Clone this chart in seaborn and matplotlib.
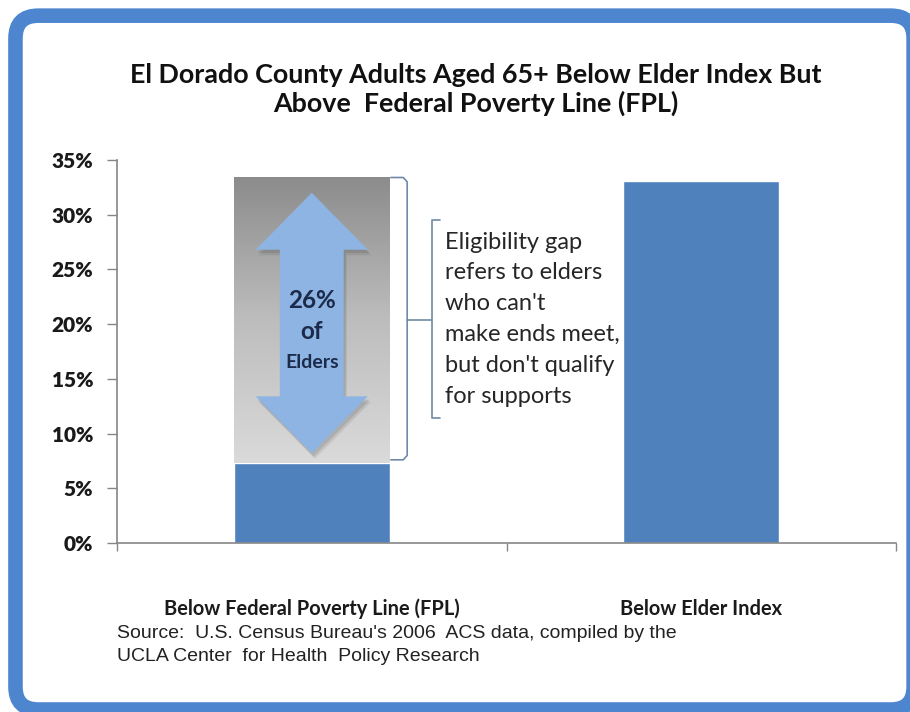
import numpy as np
import matplotlib
matplotlib.use('Agg')
import matplotlib.pyplot as plt
import seaborn as sns
from matplotlib.patches import FancyBboxPatch, Polygon
from matplotlib.ticker import FuncFormatter

# Chart data (percent of adults aged 65+)
categories = ['Below Federal Poverty Line (FPL)', 'Below Elder Index']
values = [7.3, 33.1]
gap_label = ['26%', 'of', 'Elders']
note_lines = ['Eligibility gap', 'refers to elders', "who can't",
              'make ends meet,', "but don't qualify", 'for supports']
title = 'El Dorado County Adults Aged 65+ Below Elder Index But\nAbove  Federal Poverty Line (FPL)'
source = "Source:  U.S. Census Bureau's 2006  ACS data, compiled by the\nUCLA Center  for Health  Policy Research"

bar_color = '#4f81bd'
frame_color = '#4d86cf'

sns.set_theme(style='white')
plt.rcParams['font.family'] = ['Lato', 'DejaVu Sans']

fig = plt.figure(figsize=(9.1, 7.12), dpi=100)

# rounded blue frame (runs off the right and bottom edge like the original)
frame = FancyBboxPatch((0.017, 0.0035), 0.987, 0.9745,
                       boxstyle='round,pad=0,rounding_size=0.025',
                       mutation_aspect=910 / 712,
                       transform=fig.transFigure, fc='white', ec=frame_color,
                       lw=10.5, zorder=-10)
fig.patches.append(frame)

ax = fig.add_axes([0.1286, 0.2374, 0.856, 0.5379])
ax.set_zorder(1)
ax.patch.set_alpha(0)

sns.barplot(x=categories, y=values, color=bar_color, width=0.4,
            saturation=1, ax=ax, zorder=2)

ax.set_yticks(np.arange(0, 36, 5))
ax.yaxis.set_major_formatter(FuncFormatter(lambda v, p: f'{v:.0f}%'))
for lab in ax.get_yticklabels():
    lab.set_fontweight('heavy')
ax.tick_params(axis='y', labelsize=15, length=7, width=1, color='#868686',
               direction='out', left=True, pad=10, labelcolor='#1a1a1a')
ax.tick_params(axis='x', labelsize=14.4, length=0, pad=40, labelcolor='#1a1a1a')
for lab in ax.get_xticklabels():
    lab.set_fontweight('bold')
ax.set_xticks([-0.5, 0.5, 1.5], minor=True)
ax.tick_params(axis='x', which='minor', length=6, width=1, color='#868686',
               direction='out', bottom=True)
ax.set_xlabel('')
ax.set_ylabel('')
for s in ['top', 'right']:
    ax.spines[s].set_visible(False)
for s in ['left', 'bottom']:
    ax.spines[s].set_color('#868686')
    ax.spines[s].set_linewidth(1.2)

# gray gradient box over the eligibility gap
bar = ax.patches[0]
x0, x1 = bar.get_x(), bar.get_x() + bar.get_width()
cx = (x0 + x1) / 2
box_top = values[1] + 0.3
grad = np.linspace(0, 1, 256).reshape(-1, 1)
ax.imshow(grad, extent=[x0, x1, values[0], box_top], aspect='auto',
          cmap=matplotlib.colors.LinearSegmentedColormap.from_list('g', ['#dadada', '#bdbdbd', '#8c8c8c']),
          origin='lower', zorder=3)
ax.set_xlim(-0.5, 1.5)
ax.set_ylim(0, 35)

# double arrow
lo = values[0] + 0.9
hi = values[1] - 1.1
head = 5.2
hw = 0.144
sw = 0.082
pts = [(cx, hi), (cx + hw, hi - head), (cx + sw, hi - head), (cx + sw, lo + head),
       (cx + hw, lo + head), (cx, lo), (cx - hw, lo + head), (cx - sw, lo + head),
       (cx - sw, hi - head), (cx - hw, hi - head)]
for k, a in [(1.0, 0.12), (0.6, 0.15)]:
    shadow = Polygon([(px + 0.008 * k, py - 0.5 * k) for px, py in pts], closed=True,
                     fc='#404040', ec='none', alpha=a, zorder=4)
    ax.add_patch(shadow)
ax.add_patch(Polygon(pts, closed=True, fc='#8db4e2', ec='none', zorder=5))

ax.text(cx, 22.2, gap_label[0], ha='center', va='center', fontsize=17.5,
        fontweight='bold', color='#1c2b4a', zorder=6)
ax.text(cx, 19.3, gap_label[1], ha='center', va='center', fontsize=17.5,
        fontweight='bold', color='#1c2b4a', zorder=6)
ax.text(cx, 16.5, gap_label[2], ha='center', va='center', fontsize=14,
        fontweight='bold', color='#1c2b4a', zorder=6)

# brackets
bc = '#6f8aa6'
bx = x1 + 0.045
ax.plot([x1 + 0.003, bx - 0.01, bx, bx, bx - 0.01, x1 + 0.003],
        [box_top, box_top, box_top - 0.4, values[0] + 0.7, values[0] + 0.3, values[0] + 0.3],
        color=bc, lw=1.2, zorder=4, clip_on=False)
mid = (box_top + values[0]) / 2
bx2 = bx + 0.064
ax.plot([bx, bx2], [mid, mid], color=bc, lw=1.2, zorder=4)
ax.plot([bx2 + 0.02, bx2, bx2, bx2 + 0.02], [29.5, 29.5, 11.4, 11.4],
        color=bc, lw=1.2, zorder=4)

ax.text(bx2 + 0.033, mid + 0.1, '\n'.join(note_lines), ha='left', va='center',
        fontsize=17, color='#262626', linespacing=1.58, zorder=6)

fig.text(0.523, 0.874, title, ha='center', va='center', fontsize=19.4,
         fontweight='bold', color='#111111', linespacing=1.2)
fig.text(0.1286, 0.094, source, ha='left', va='center',
         fontsize=14, family=['Liberation Sans Narrow', 'Liberation Sans'],
         color='#222222', linespacing=1.4)

fig.savefig('out.png', dpi=100)
